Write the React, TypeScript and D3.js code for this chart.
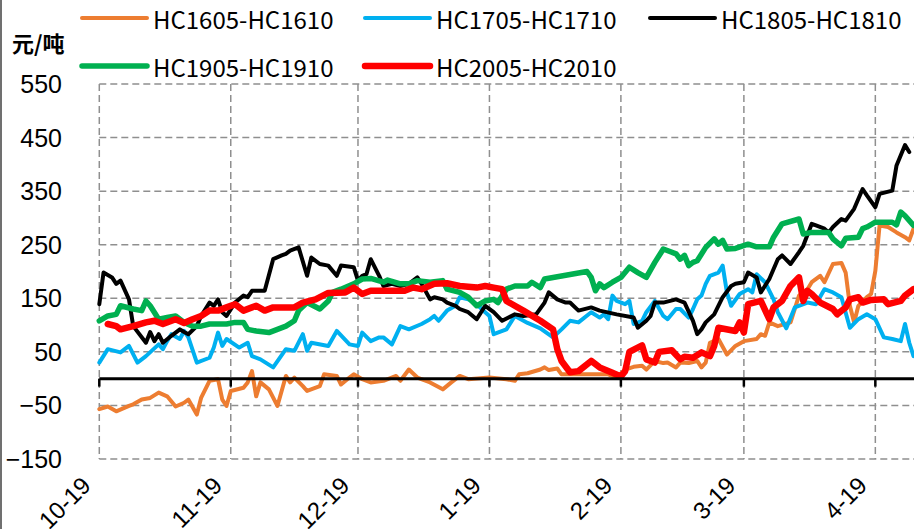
import React, { useEffect, useRef } from 'react';
import * as d3 from 'd3';

type Pt = [string, number];

// value tables (date as month-day, Oct–Dec are 2019, Jan–Apr are 2020)
const seriesNames = ["HC1605-HC1610", "HC1705-HC1710", "HC1805-HC1810", "HC1905-HC1910", "HC2005-HC2010"];
const seriesColors = ["#ED7D31", "#00B0F0", "#000000", "#00B050", "#FF0000"];
const seriesWidths = [4, 4, 4, 5.5, 6.5];

const hc1605: Pt[] = [["10-19",-57],["10-21",-52],["10-23",-61],["10-26",-51],["10-27",-48],["10-29",-39],["10-31",-36],["11-02",-26],["11-04",-33],["11-06",-52],["11-08",-45],["11-09",-39],["11-11",-67],["11-12",-36],["11-14",-4],["11-16",-1],["11-17",-39],["11-18",-51],["11-19",-23],["11-22",-17],["11-23",-7],["11-24",14],["11-25",-33],["11-26",-7],["11-28",-20],["11-30",-51],["12-02",5],["12-03",-7],["12-04",2],["12-06",-14],["12-07",-23],["12-10",-14],["12-11",8],["12-14",5],["12-15",-11],["12-17",2],["12-18",8],["12-20",-1],["12-22",-7],["12-25",-4],["12-28",5],["12-29",-4],["12-31",17],["01-02",2],["01-05",-7],["01-08",-20],["01-10",-7],["01-12",5],["01-14",-1],["01-19",2],["01-23",-1],["01-25",-4],["01-26",8],["01-28",10],["01-31",17],["02-01",21],["02-02",16],["02-04",19],["02-05",8],["02-16",8],["02-18",2],["02-20",17],["02-22",22],["02-24",24],["02-25",17],["02-27",33],["02-29",29],["03-01",30],["03-03",21],["03-04",30],["03-06",29],["03-08",33],["03-09",21],["03-10",30],["03-11",67],["03-13",74],["03-15",45],["03-17",61],["03-19",70],["03-22",74],["03-23",83],["03-24",80],["03-25",105],["03-27",98],["03-30",105],["04-01",155],["04-03",167],["04-04",180],["04-06",192],["04-07",180],["04-09",214],["04-11",216],["04-12",198],["04-13",136],["04-14",105],["04-15",136],["04-17",152],["04-18",158],["04-19",201],["04-20",286],["04-22",283],["04-24",273],["04-26",264],["04-27",258],["04-28",280]];

const hc1705: Pt[] = [["10-19",30],["10-21",55],["10-24",49],["10-26",61],["10-28",30],["10-30",42],["11-02",64],["11-03",55],["11-04",70],["11-05",83],["11-07",74],["11-08",89],["11-09",77],["11-11",30],["11-14",39],["11-15",58],["11-16",86],["11-17",61],["11-18",74],["11-21",58],["11-23",67],["11-24",42],["11-26",36],["11-29",21],["12-02",55],["12-04",52],["12-06",83],["12-07",52],["12-08",67],["12-12",61],["12-14",89],["12-17",64],["12-19",61],["12-20",86],["12-22",70],["12-24",77],["12-25",77],["12-27",64],["12-29",98],["12-31",92],["01-03",102],["01-05",111],["01-06",117],["01-07",108],["01-09",127],["01-11",136],["01-12",152],["01-14",148],["01-16",139],["01-18",124],["01-19",117],["01-20",83],["01-23",92],["01-25",117],["01-28",104],["01-31",94],["02-03",77],["02-05",92],["02-07",108],["02-09",105],["02-12",124],["02-14",114],["02-15",120],["02-16",111],["02-17",155],["02-18",145],["02-20",139],["02-21",145],["02-22",102],["02-24",108],["02-25",124],["02-27",145],["02-29",117],["03-01",111],["03-03",130],["03-04",130],["03-06",114],["03-07",130],["03-08",148],["03-09",155],["03-10",177],["03-11",192],["03-13",198],["03-14",211],["03-15",161],["03-16",136],["03-18",158],["03-20",167],["03-21",161],["03-22",195],["03-24",180],["03-26",148],["03-27",124],["03-29",94],["03-31",133],["04-03",142],["04-05",139],["04-07",167],["04-09",161],["04-11",152],["04-13",95],["04-15",111],["04-17",120],["04-19",111],["04-21",77],["04-23",74],["04-25",70],["04-26",102],["04-27",67],["04-28",42]];

const hc1805: Pt[] = [["10-19",139],["10-20",198],["10-22",189],["10-23",177],["10-24",183],["10-26",148],["10-27",98],["10-30",67],["10-31",87],["11-01",70],["11-02",83],["11-03",67],["11-05",80],["11-07",92],["11-08",87],["11-09",83],["11-11",98],["11-12",117],["11-14",142],["11-15",136],["11-16",148],["11-17",124],["11-18",117],["11-20",142],["11-22",155],["11-23",152],["11-24",164],["11-27",164],["11-29",223],["12-01",230],["12-02",233],["12-03",239],["12-05",245],["12-07",192],["12-08",226],["12-10",214],["12-12",211],["12-14",192],["12-15",211],["12-18",208],["12-19",183],["12-20",192],["12-21",195],["12-22",223],["12-24",192],["12-25",173],["12-27",177],["12-29",173],["12-31",177],["01-02",189],["01-03",177],["01-05",148],["01-06",152],["01-08",148],["01-09",142],["01-11",136],["01-12",130],["01-14",124],["01-16",111],["01-18",136],["01-20",124],["01-22",108],["01-25",120],["01-27",117],["01-30",120],["02-01",142],["02-02",161],["02-04",148],["02-06",142],["02-07",142],["02-09",127],["02-12",133],["02-14",127],["02-18",120],["02-22",114],["02-23",95],["02-25",108],["02-26",117],["02-27",142],["02-29",142],["03-03",148],["03-05",142],["03-07",108],["03-08",83],["03-09",92],["03-10",105],["03-12",120],["03-14",152],["03-16",173],["03-17",177],["03-19",180],["03-20",198],["03-22",189],["03-23",161],["03-25",186],["03-27",223],["03-28",230],["03-30",214],["04-01",236],["04-02",248],["04-04",289],["04-05",286],["04-07",280],["04-08",273],["04-09",283],["04-11",298],["04-12",295],["04-14",317],["04-16",354],["04-17",342],["04-19",320],["04-20",345],["04-23",351],["04-24",398],["04-26",436],["04-27",423]];

const hc1905: Pt[] = [["10-19",108],["10-21",117],["10-23",120],["10-24",136],["10-27",130],["10-29",127],["10-30",145],["10-31",136],["11-02",111],["11-04",114],["11-06",117],["11-08",105],["11-10",98],["11-12",98],["11-14",102],["11-18",102],["11-20",105],["11-22",105],["11-23",92],["11-25",89],["11-28",86],["11-30",92],["12-02",98],["12-04",108],["12-05",127],["12-07",142],["12-10",130],["12-12",145],["12-13",161],["12-15",167],["12-18",177],["12-20",186],["12-22",187],["12-25",180],["12-26",184],["12-29",177],["12-31",177],["01-02",183],["01-05",180],["01-08",183],["01-09",167],["01-12",161],["01-14",152],["01-16",136],["01-18",145],["01-20",148],["01-21",142],["01-23",167],["01-25",173],["01-28",173],["01-29",180],["01-31",170],["02-01",186],["02-06",193],["02-11",200],["02-12",189],["02-13",164],["02-14",177],["02-15",170],["02-17",180],["02-19",189],["02-21",208],["02-23",198],["02-25",189],["02-27",217],["02-29",242],["03-03",233],["03-04",223],["03-05",230],["03-06",211],["03-07",217],["03-08",220],["03-10",245],["03-12",261],["03-13",251],["03-14",258],["03-15",242],["03-17",243],["03-20",251],["03-22",246],["03-25",246],["03-26",264],["03-28",289],["04-01",298],["04-02",270],["04-04",273],["04-08",273],["04-09",261],["04-11",248],["04-12",262],["04-15",264],["04-16",280],["04-17",283],["04-19",292],["04-23",292],["04-24",287],["04-25",311],["04-26",304],["04-28",286]];

const hc2005: Pt[] = [["10-21",102],["10-23",98],["10-24",92],["10-27",98],["10-30",105],["11-01",108],["11-03",102],["11-06",111],["11-08",104],["11-10",111],["11-12",117],["11-14",127],["11-16",127],["11-18",133],["11-20",139],["11-22",127],["11-24",133],["11-25",136],["11-27",127],["11-29",133],["12-04",133],["12-06",142],["12-09",148],["12-12",160],["12-16",161],["12-18",170],["12-20",158],["12-22",164],["12-30",164],["01-01",170],["01-03",167],["01-06",177],["01-09",178],["01-12",173],["01-16",170],["01-18",173],["01-20",170],["01-22",167],["01-23",145],["01-27",127],["01-31",108],["02-03",92],["02-04",55],["02-05",33],["02-07",12],["02-09",14],["02-12",33],["02-14",21],["02-17",11],["02-19",4],["02-20",14],["02-21",50],["02-24",62],["02-25",36],["02-27",30],["02-28",50],["03-02",53],["03-04",36],["03-05",41],["03-07",39],["03-09",49],["03-11",42],["03-12",61],["03-13",95],["03-17",89],["03-18",105],["03-19",86],["03-20",139],["03-23",145],["03-25",111],["03-26",133],["03-28",145],["03-30",173],["04-01",189],["04-02",145],["04-03",164],["04-04",158],["04-06",142],["04-09",130],["04-10",120],["04-12",133],["04-13",148],["04-15",152],["04-16",142],["04-18",147],["04-21",148],["04-22",139],["04-25",145],["04-26",155],["04-28",167]];

const allSeries = [hc1605, hc1705, hc1805, hc1905, hc2005];

const yTickValues = [-150, -50, 50, 150, 250, 350, 450, 550];
const xTickDates = ["10-19", "11-19", "12-19", "01-19", "02-19", "03-19", "04-19"];
const xDomain = ["10-19", "04-28"];
const yUnit = "元/吨";

const parseMD = (s: string) => {
  const [m, d] = s.split("-").map(Number);
  return new Date(Date.UTC(m >= 10 ? 2019 : 2020, m - 1, d));
};

export default function App() {
  const svgRef = useRef<SVGSVGElement>(null);
  const width = 914;
  const height = 529;

  useEffect(() => {
    if (!svgRef.current) return;
    const svg = d3.select(svgRef.current);
    svg.selectAll("*").remove();

    const left = 99.3, right = 913.5, top = 84, bottom = 459;

    const x = d3.scaleUtc()
      .domain(xDomain.map(parseMD) as [Date, Date])
      .range([left, right]);
    const y = d3.scaleLinear().domain([-150, 550]).range([bottom, top]);

    // frame line at the very left
    svg.append("line")
      .attr("x1", 1).attr("x2", 1).attr("y1", 0).attr("y2", height)
      .attr("stroke", "#404040").attr("stroke-width", 1.5);

    // dashed grid
    const grid = svg.append("g").attr("stroke", "#8f8f8f").attr("stroke-width", 1.5)
      .attr("stroke-dasharray", "7,4");
    grid.selectAll(".hg").data(yTickValues).enter().append("line")
      .attr("x1", left).attr("x2", width)
      .attr("y1", d => y(d)).attr("y2", d => y(d));
    grid.selectAll(".vg").data(xTickDates).enter().append("line")
      .attr("x1", d => x(parseMD(d))).attr("x2", d => x(parseMD(d)))
      .attr("y1", top).attr("y2", bottom);

    // y labels
    svg.selectAll(".yl").data(yTickValues).enter().append("text")
      .attr("x", 62).attr("y", d => y(d))
      .attr("text-anchor", "end").attr("dominant-baseline", "central")
      .style("font-family", "'Liberation Sans', Arial, sans-serif")
      .style("font-size", "25px").style("fill", "#000")
      .text(d => d3.format("")(d));

    // unit
    svg.append("text")
      .attr("x", 12).attr("y", 42)
      .attr("dominant-baseline", "central")
      .style("font-family", "'Noto Sans CJK SC', sans-serif")
      .style("font-size", "22px").style("font-weight", "700")
      .text(yUnit);

    // series
    const line = d3.line<Pt>()
      .x(d => x(parseMD(d[0])))
      .y(d => y(d[1]));
    allSeries.forEach((s, i) => {
      svg.append("path")
        .datum(s)
        .attr("d", line)
        .attr("fill", "none")
        .attr("stroke", seriesColors[i])
        .attr("stroke-width", seriesWidths[i])
        .attr("stroke-linejoin", "round")
        .attr("stroke-linecap", "round");
    });

    // zero axis with ticks
    svg.append("line")
      .attr("x1", left).attr("x2", width).attr("y1", y(0)).attr("y2", y(0))
      .attr("stroke", "#000").attr("stroke-width", 3);
    svg.selectAll(".xt").data(xTickDates).enter().append("line")
      .attr("x1", d => x(parseMD(d))).attr("x2", d => x(parseMD(d)))
      .attr("y1", y(0)).attr("y2", y(0) + 8)
      .attr("stroke", "#000").attr("stroke-width", 2.5);

    // x labels, rotated
    svg.selectAll(".xl").data(xTickDates).enter().append("text")
      .attr("transform", d => `translate(${x(parseMD(d)) - 7}, 487) rotate(-45)`)
      .attr("text-anchor", "end")
      .style("font-family", "'Liberation Sans', Arial, sans-serif")
      .style("font-size", "24px")
      .text(d => {
        const dt = parseMD(d);
        return `${dt.getUTCMonth() + 1}-${dt.getUTCDate()}`;
      });

    // legend
    const legendPos = [[82, 18], [365, 18], [650, 18], [82, 66], [365, 66]];
    seriesNames.forEach((name, i) => {
      const [lx, ly] = legendPos[i];
      const g = svg.append("g").attr("transform", `translate(${lx}, ${ly})`);
      g.append("line")
        .attr("x1", 0).attr("x2", 65).attr("y1", 0).attr("y2", 0)
        .attr("stroke", seriesColors[i])
        .attr("stroke-width", seriesWidths[i])
        .attr("stroke-linecap", "round");
      g.append("text")
        .attr("x", 71).attr("y", 0)
        .attr("dominant-baseline", "central")
        .style("font-family", "'Noto Sans CJK SC', sans-serif")
        .style("font-size", "24px")
        .text(name);
    });
  }, []);

  return (
    <svg ref={svgRef} width={width} height={height}
      style={{ position: 'absolute', left: 0, top: 0, background: '#fff', display: 'block' }} />
  );
}
